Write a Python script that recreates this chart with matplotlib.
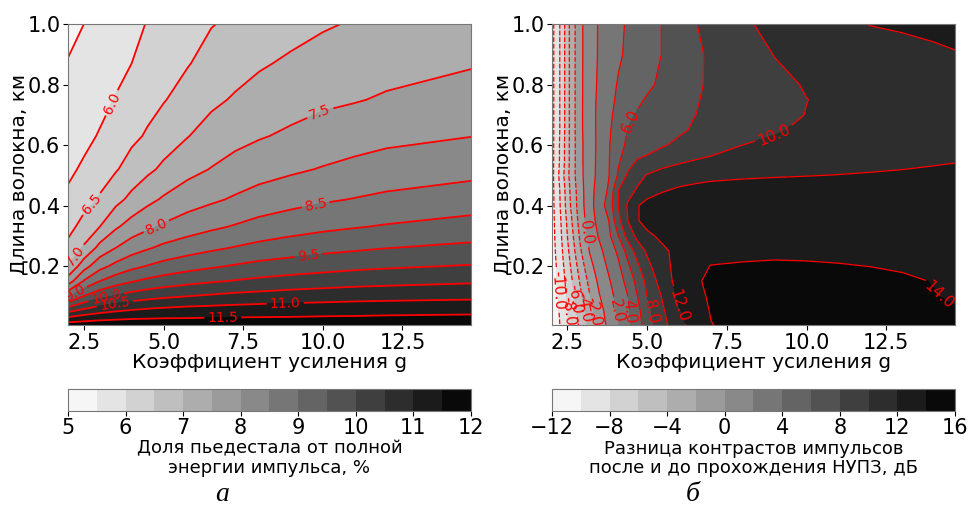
import numpy as np
import matplotlib.pyplot as plt

# --- panel a: pedestal share, % ---
g_a = np.array([2.0, 2.5, 3.0, 3.5, 4.0, 4.5, 5.0, 5.75, 6.5, 7.25, 8.0,
                9.0, 10.0, 11.0, 12.0, 14.65])
len_a = np.array([0.005, 0.03, 0.06, 0.1, 0.15, 0.2, 0.26, 0.33, 0.42, 0.52,
                  0.63, 0.75, 0.87, 1.0])
share = np.array([
    [11.76, 11.78, 11.80, 11.80, 11.80, 11.80, 11.81, 11.80, 11.80, 11.80, 11.80, 11.80, 11.81, 11.81, 11.83, 11.86],
    [11.03, 11.20, 11.31, 11.37, 11.42, 11.44, 11.46, 11.47, 11.49, 11.50, 11.51, 11.52, 11.54, 11.55, 11.57, 11.60],
    [10.12, 10.45, 10.67, 10.81, 10.91, 10.98, 11.03, 11.09, 11.12, 11.15, 11.18, 11.20, 11.22, 11.24, 11.26, 11.29],
    [8.92, 9.52, 9.85, 10.06, 10.22, 10.33, 10.41, 10.50, 10.57, 10.64, 10.68, 10.74, 10.78, 10.82, 10.84, 10.89],
    [7.74, 8.54, 9.00, 9.27, 9.46, 9.61, 9.72, 9.85, 9.95, 10.03, 10.11, 10.19, 10.25, 10.31, 10.35, 10.43],
    [7.00, 7.79, 8.33, 8.63, 8.86, 9.02, 9.16, 9.31, 9.43, 9.54, 9.64, 9.73, 9.81, 9.88, 9.93, 10.03],
    [6.62, 7.06, 7.66, 8.00, 8.27, 8.45, 8.61, 8.77, 8.91, 9.03, 9.14, 9.25, 9.35, 9.42, 9.49, 9.61],
    [6.35, 6.66, 7.00, 7.43, 7.71, 7.91, 8.07, 8.26, 8.41, 8.54, 8.67, 8.79, 8.89, 8.97, 9.04, 9.19],
    [6.08, 6.33, 6.55, 6.85, 7.13, 7.37, 7.56, 7.77, 7.92, 8.06, 8.20, 8.33, 8.44, 8.52, 8.60, 8.74],
    [5.92, 6.06, 6.29, 6.46, 6.69, 6.90, 7.09, 7.35, 7.52, 7.68, 7.80, 7.92, 8.03, 8.13, 8.22, 8.35],
    [5.79, 5.90, 6.03, 6.25, 6.40, 6.55, 6.76, 6.98, 7.20, 7.35, 7.46, 7.58, 7.70, 7.79, 7.87, 7.99],
    [5.66, 5.77, 5.89, 6.02, 6.20, 6.36, 6.47, 6.70, 6.90, 7.05, 7.20, 7.31, 7.41, 7.47, 7.55, 7.71],
    [5.52, 5.64, 5.77, 5.89, 6.00, 6.20, 6.30, 6.47, 6.67, 6.82, 6.94, 7.08, 7.19, 7.27, 7.34, 7.46],
    [5.38, 5.50, 5.63, 5.76, 5.89, 6.02, 6.13, 6.32, 6.48, 6.58, 6.68, 6.82, 6.95, 7.04, 7.12, 7.30],
])
levels_a = np.arange(5.0, 12.01, 0.5)
ticks_a = [5, 6, 7, 8, 9, 10, 11, 12]
labels_pos_a = [(3.42, 0.737), (2.8, 0.40), (2.22, 0.235), (9.92, 0.707),
                (4.84, 0.318), (9.76, 0.412), (2.22, 0.108), (9.55, 0.24),
                (3.21, 0.092), (3.48, 0.07), (8.82, 0.077), (6.86, 0.033)]

# --- panel b: contrast difference, dB ---
g_b = np.array([2.02, 2.3, 2.6, 2.9, 3.2, 3.5, 3.8, 4.1, 4.4, 4.7, 5.0, 5.5,
                6.0, 6.5, 7.0, 8.0, 9.0, 10.0, 11.0, 12.0, 13.0, 14.0, 14.65])
len_b = np.array([0.005, 0.05, 0.1, 0.15, 0.2, 0.25, 0.3, 0.35, 0.4, 0.45,
                  0.5, 0.55, 0.6, 0.65, 0.7, 0.75, 0.8, 0.9, 1.0])
contrast = np.array([
    [-11.6, -9.8, -7.79, -5.63, -3.43, -1.29, 0.55, 1.91, 3.47, 5.14, 7.0, 9.4, 11.4, 12.8, 13.95, 14.5, 14.7, 14.75, 14.7, 14.6, 14.5, 14.4, 14.3],
    [-11.5, -9.59, -7.46, -5.15, -2.89, -0.8, 0.84, 2.25, 3.75, 5.43, 7.33, 9.78, 11.8, 13.06, 14.1, 14.6, 14.8, 14.85, 14.8, 14.7, 14.5, 14.25, 14.1],
    [-11.3, -9.33, -7.0, -4.5, -2.15, -0.13, 1.3, 2.67, 4.0, 6.0, 8.0, 10.25, 12.33, 13.44, 14.25, 14.7, 14.85, 14.85, 14.75, 14.6, 14.35, 14.05, 13.85],
    [-11.2, -9.08, -6.52, -3.83, -1.43, 0.44, 1.78, 3.11, 4.67, 6.67, 8.5, 11.05, 12.7, 13.78, 14.3, 14.6, 14.7, 14.65, 14.55, 14.4, 14.2, 13.95, 13.75],
    [-11.1, -8.82, -6.0, -3.09, -0.62, 1.0, 2.35, 3.65, 5.63, 7.67, 9.43, 11.48, 12.59, 13.41, 14.05, 14.15, 14.2, 14.15, 14.08, 13.98, 13.85, 13.75, 13.7],
    [-10.9, -8.5, -5.44, -2.3, 0.1, 1.52, 2.89, 4.4, 6.8, 8.86, 10.29, 11.71, 12.5, 12.9, 13.3, 13.6, 13.7, 13.7, 13.65, 13.6, 13.55, 13.55, 13.55],
    [-10.8, -8.21, -4.94, -1.71, 0.65, 2.22, 3.56, 6.0, 8.8, 10.55, 11.64, 12.4, 12.7, 12.9, 13.0, 13.2, 13.3, 13.35, 13.35, 13.4, 13.45, 13.5, 13.55],
    [-10.7, -8.0, -4.5, -1.2, 1.09, 2.67, 4.0, 7.5, 10.0, 11.88, 12.6, 12.8, 12.9, 13.0, 13.0, 13.1, 13.2, 13.2, 13.25, 13.3, 13.35, 13.4, 13.45],
    [-10.65, -7.76, -4.0, -0.91, 1.33, 2.95, 4.89, 8.0, 10.27, 11.89, 12.6, 12.8, 12.9, 13.0, 13.0, 13.1, 13.2, 13.2, 13.25, 13.25, 13.3, 13.3, 13.3],
    [-10.6, -7.63, -3.76, -0.8, 1.29, 2.81, 4.25, 8.0, 9.28, 10.24, 11.2, 11.9, 12.2, 12.35, 12.45, 12.6, 12.7, 12.8, 12.9, 12.95, 13.0, 13.05, 13.1],
    [-10.6, -7.18, -3.38, -0.54, 1.15, 2.58, 3.91, 6.26, 8.33, 9.33, 10.1, 10.9, 11.35, 11.55, 11.7, 11.8, 11.88, 11.95, 12.03, 12.11, 12.18, 12.25, 12.3],
    [-10.6, -7.5, -3.5, -0.5, 1.14, 2.53, 3.87, 5.74, 7.08, 8.09, 8.43, 8.99, 9.55, 10.02, 10.3, 10.7, 11.0, 11.2, 11.4, 11.55, 11.7, 11.85, 11.93],
    [-10.6, -7.5, -3.5, -0.5, 1.12, 2.49, 3.82, 5.44, 6.29, 6.71, 7.14, 7.86, 8.33, 8.75, 9.17, 10.0, 10.27, 10.54, 10.81, 11.08, 11.35, 11.62, 11.8],
    [-10.6, -7.63, -3.5, -0.43, 1.16, 2.49, 3.71, 5.02, 6.08, 6.4, 6.71, 7.23, 7.75, 8.18, 8.51, 9.19, 9.86, 10.25, 10.56, 10.87, 11.18, 11.5, 11.7],
    [-10.6, -7.63, -3.5, -0.43, 1.19, 2.48, 3.59, 4.62, 5.61, 6.18, 6.48, 6.98, 7.48, 7.98, 8.29, 8.88, 9.48, 10.04, 10.33, 10.62, 10.92, 11.21, 11.4],
    [-10.6, -7.63, -3.5, -0.43, 1.16, 2.42, 3.47, 4.33, 5.0, 5.67, 6.17, 6.74, 7.31, 7.89, 8.24, 8.82, 9.41, 9.98, 10.32, 10.65, 10.97, 11.29, 11.5],
    [-10.6, -7.63, -3.5, -0.43, 1.11, 2.33, 3.31, 4.15, 4.65, 5.15, 5.65, 6.39, 7.07, 7.76, 8.22, 8.9, 9.58, 10.12, 10.44, 10.76, 11.07, 11.39, 11.6],
    [-10.6, -7.63, -3.5, -0.43, 1.06, 2.21, 2.97, 3.74, 4.32, 4.8, 5.28, 6.08, 6.87, 7.67, 8.27, 9.21, 10.05, 10.38, 10.7, 11.03, 11.36, 11.69, 11.9],
    [-10.6, -7.63, -3.5, -0.43, 1.06, 2.19, 2.89, 3.6, 4.22, 4.73, 5.24, 6.09, 7.0, 7.91, 8.55, 9.76, 10.45, 11.02, 11.59, 12.06, 12.26, 12.46, 12.6],
])
levels_b = np.arange(-12, 16.1, 2)
ticks_b = [-12, -8, -4, 0, 4, 8, 12, 16]
labels_pos_b = [(2.17, 0.12), (2.55, 0.05), (2.75, 0.09), (3.0, 0.06),
                (3.3, 0.05), (3.02, 0.31), (4.05, 0.05), (4.4, 0.05),
                (4.45, 0.68), (5.15, 0.05), (9.0, 0.63), (6.0, 0.07),
                (14.1, 0.1)]

xlabel = 'Коэффициент усиления g'
ylabel = 'Длина волокна, км'
cbar_label_a = 'Доля пьедестала от полной\nэнергии импульса, %'
cbar_label_b = 'Разница контрастов импульсов\nпосле и до прохождения НУПЗ, дБ'

plt.rcParams['font.family'] = ['DejaVu Sans']
fig = plt.figure(figsize=(9.68, 5.09), dpi=100)

panels = [
    (0.0702, g_a, len_a, share, levels_a, ticks_a, labels_pos_a, 1.3, 10, cbar_label_a, 'а', 0.229),
    (0.5702, g_b, len_b, contrast, levels_b, ticks_b, labels_pos_b, 0.9, 11, cbar_label_b, 'б', 0.716),
]

for left, gx, ly, z, lev, cticks, lpos, lw, lfs, clabel_text, letter, letter_x in panels:
    ax = fig.add_axes([left, 0.3615, 0.4163, 0.5913])
    cf = ax.contourf(gx, ly, z, levels=lev, cmap='gray_r')
    cs = ax.contour(gx, ly, z, levels=lev, colors='red', linewidths=lw)
    ax.clabel(cs, fmt='%1.1f', fontsize=lfs, colors='red', manual=lpos,
              inline=True, inline_spacing=3)
    ax.set_xlim(gx[0], gx[-1])
    ax.set_ylim(ly[0], 1.0)
    ax.set_xticks([2.5, 5.0, 7.5, 10.0, 12.5])
    ax.set_yticks([0.2, 0.4, 0.6, 0.8, 1.0])
    ax.tick_params(labelsize=15, pad=2)
    ax.set_xlabel(xlabel, fontsize=14.5, labelpad=0)
    ax.set_ylabel(ylabel, fontsize=14.5, labelpad=-1)
    for sp in ax.spines.values():
        sp.set_color('#777777')

    cax = fig.add_axes([left, 0.193, 0.4163, 0.042])
    cb = fig.colorbar(cf, cax=cax, orientation='horizontal', ticks=cticks)
    cb.ax.tick_params(labelsize=15, pad=2)
    cb.outline.set_edgecolor('#777777')
    cb.set_label(clabel_text, fontsize=13, labelpad=1, linespacing=1.1)

    fig.text(letter_x, 0.016, letter, ha='center', va='baseline', fontsize=20,
             family='Liberation Serif', style='italic')

fig.savefig('out.png', dpi=100)
